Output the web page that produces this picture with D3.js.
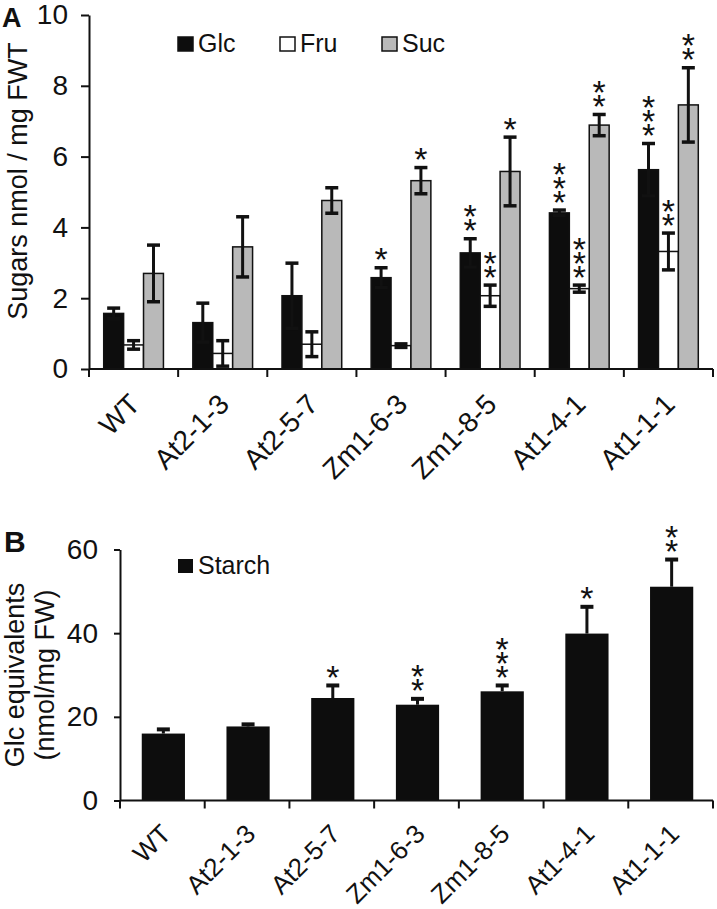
<!DOCTYPE html>
<html>
<head>
<meta charset="utf-8">
<script src="https://cdn.jsdelivr.net/npm/d3@7"></script>
<style>
  body { margin: 0; background: #fff; }
  svg text { font-family: "Liberation Sans", Arial, sans-serif; fill: #111; }
</style>
</head>
<body>
<svg id="chart" width="717" height="909"></svg>
<script>
// x axis categories, same in both panels
const categories = ["WT", "At2-1-3", "At2-5-7", "Zm1-6-3", "Zm1-8-5", "At1-4-1", "At1-1-1"];

// panel A: sugars nmol / mg FWT
const glc = [1.57, 1.31, 2.07, 2.58, 3.28, 4.41, 5.63];
const glcErr = [0.15, 0.55, 0.92, 0.28, 0.40, 0.08, 0.74];
const fru = [0.68, 0.44, 0.70, 0.66, 2.07, 2.27, 3.32];
const fruErr = [0.12, 0.36, 0.35, 0.05, 0.30, 0.10, 0.52];
const suc = [2.70, 3.45, 4.76, 5.32, 5.58, 6.89, 7.46];
const sucErr = [0.80, 0.85, 0.36, 0.37, 0.97, 0.30, 1.05];
const glcSig = ["", "", "", "*", "**", "***", "***"];
const fruSig = ["", "", "", "", "**", "***", "**"];
const sucSig = ["", "", "", "*", "*", "**", "**"];
const sugarTicks = [0, 2, 4, 6, 8, 10];

// panel B: starch, Glc equivalents
const starch = [16.0, 17.7, 24.5, 22.9, 26.1, 39.9, 51.1];
const starchErr = [1.0, 0.5, 3.0, 1.4, 1.4, 6.4, 6.5];
const starchSig = ["", "", "*", "**", "***", "*", "**"];
const starchTicks = [0, 20, 40, 60];

const svg = d3.select("#chart");

const series = [
  { name: "Glc", values: glc, err: glcErr, sig: glcSig, fill: "#0d0d0d" },
  { name: "Fru", values: fru, err: fruErr, sig: fruSig, fill: "#ffffff" },
  { name: "Suc", values: suc, err: sucErr, sig: sucSig, fill: "#b9b9b9" }
];

const starSize = 34;

function styleAxis(g) {
  g.selectAll("path, line").attr("stroke", "#111").attr("stroke-width", 2);
  g.selectAll("text").attr("font-size", 28).attr("fill", "#111");
}

function catAxis(g, x, y0, dx, dy, fs) {
  // boundary ticks between categories
  const bounds = categories.map(c => x(c)).concat([x.range()[1]]);
  g.append("line")
    .attr("x1", x.range()[0]).attr("x2", x.range()[1])
    .attr("y1", y0).attr("y2", y0)
    .attr("stroke", "#111").attr("stroke-width", 2);
  g.selectAll(".bt").data(bounds).enter().append("line")
    .attr("x1", d => d).attr("x2", d => d)
    .attr("y1", y0).attr("y2", y0 + 8)
    .attr("stroke", "#111").attr("stroke-width", 2);
  g.selectAll(".cl").data(categories).enter().append("text")
    .attr("transform", d => `translate(${x(d) + x.bandwidth() / 2 + dx},${y0 + dy}) rotate(-45)`)
    .attr("text-anchor", "end")
    .attr("font-size", fs)
    .text(d => d);
}

// one entry per asterisk, k = position in the stack
function stars(sig) {
  const out = [];
  sig.forEach((str, i) => {
    for (let k = 0; k < str.length; k++) out.push({ i, k });
  });
  return out;
}

// ---------- panel A ----------
const yA = d3.scaleLinear().domain([0, 10]).range([369, 15]);
const xA = d3.scaleBand().domain(categories).range([89, 713]).padding(0);
const xIn = d3.scaleBand().domain(series.map(s => s.name))
  .range([xA.bandwidth() * 0.165, xA.bandwidth() * 0.835]).padding(0);

const gA = svg.append("g");

gA.append("g")
  .attr("transform", "translate(89,0)")
  .call(d3.axisLeft(yA).tickValues(sugarTicks).tickSize(8).tickSizeOuter(0).tickPadding(13))
  .call(styleAxis);

series.forEach(s => {
  const g = gA.append("g");
  g.selectAll("rect").data(categories).enter().append("rect")
    .attr("x", (c) => xA(c) + xIn(s.name))
    .attr("y", (c, i) => yA(s.values[i]))
    .attr("width", xIn.bandwidth())
    .attr("height", (c, i) => yA(0) - yA(s.values[i]))
    .attr("fill", s.fill)
    .attr("stroke", "#111")
    .attr("stroke-width", 1.5);

  const cx = c => xA(c) + xIn(s.name) + xIn.bandwidth() / 2;
  const eb = g.selectAll(".eb").data(categories).enter().append("g");
  eb.append("line")
    .attr("x1", cx).attr("x2", cx)
    .attr("y1", (c, i) => yA(s.values[i] + s.err[i]))
    .attr("y2", (c, i) => yA(Math.max(0, s.values[i] - s.err[i])))
    .attr("stroke", "#111").attr("stroke-width", 3);
  [1, -1].forEach(sign => {
    eb.append("line")
      .attr("x1", c => cx(c) - 6.5).attr("x2", c => cx(c) + 6.5)
      .attr("y1", (c, i) => yA(Math.max(0, s.values[i] + sign * s.err[i])))
      .attr("y2", (c, i) => yA(Math.max(0, s.values[i] + sign * s.err[i])))
      .attr("stroke", "#111").attr("stroke-width", 3.5);
  });

  g.selectAll(".st").data(stars(s.sig)).enter().append("text")
    .attr("x", d => cx(categories[d.i]))
    .attr("y", d => yA(s.values[d.i] + s.err[d.i]) - 16 - d.k * 14 + starSize * 0.575)
    .attr("text-anchor", "middle")
    .attr("font-size", starSize)
    .text("*");
});

catAxis(gA, xA, 369, 8, 37, 28);

// legend A
const legA = gA.append("g");
const legX = [178, 280, 382];
series.forEach((s, i) => {
  legA.append("rect")
    .attr("x", legX[i]).attr("y", 37).attr("width", 15).attr("height", 14)
    .attr("fill", s.fill).attr("stroke", "#111").attr("stroke-width", 1.5);
  legA.append("text")
    .attr("x", legX[i] + 20).attr("y", 52)
    .attr("font-size", 25)
    .text(s.name);
});

gA.append("text")
  .attr("transform", "translate(27,181) rotate(-90)")
  .attr("text-anchor", "middle")
  .attr("font-size", 27)
  .text("Sugars nmol / mg FWT");

gA.append("text")
  .attr("x", 2).attr("y", 27)
  .attr("font-size", 27).attr("font-weight", "bold")
  .text("A");

// ---------- panel B ----------
const yB = d3.scaleLinear().domain([0, 60]).range([800.5, 549.5]);
const xB = d3.scaleBand().domain(categories).range([120, 713]).padding(0);
const gB = svg.append("g");

gB.append("g")
  .attr("transform", "translate(120,0)")
  .call(d3.axisLeft(yB).tickValues(starchTicks).tickSize(6).tickSizeOuter(0).tickPadding(16))
  .call(styleAxis);

const bw = xB.bandwidth() * 0.51;
const bcx = c => xB(c) + xB.bandwidth() / 2 + 1;

gB.selectAll(".bar").data(categories).enter().append("rect")
  .attr("x", c => bcx(c) - bw / 2)
  .attr("y", (c, i) => yB(starch[i]))
  .attr("width", bw)
  .attr("height", (c, i) => yB(0) - yB(starch[i]))
  .attr("fill", "#0d0d0d");

gB.selectAll(".stem").data(categories).enter().append("line")
  .attr("x1", bcx).attr("x2", bcx)
  .attr("y1", (c, i) => yB(starch[i] + starchErr[i]))
  .attr("y2", (c, i) => yB(starch[i]))
  .attr("stroke", "#111").attr("stroke-width", 3);
gB.selectAll(".cap").data(categories).enter().append("line")
  .attr("x1", c => bcx(c) - 6.5).attr("x2", c => bcx(c) + 6.5)
  .attr("y1", (c, i) => yB(starch[i] + starchErr[i]))
  .attr("y2", (c, i) => yB(starch[i] + starchErr[i]))
  .attr("stroke", "#111").attr("stroke-width", 4);

gB.selectAll(".st").data(stars(starchSig)).enter().append("text")
  .attr("x", d => bcx(categories[d.i]))
  .attr("y", d => yB(starch[d.i] + starchErr[d.i]) - 16 - d.k * 14 + starSize * 0.575)
  .attr("text-anchor", "middle")
  .attr("font-size", starSize)
  .text("*");

catAxis(gB, xB, 800.5, 10, 35, 26);

gB.append("rect")
  .attr("x", 178).attr("y", 559).attr("width", 15).attr("height", 14)
  .attr("fill", "#0d0d0d");
gB.append("text")
  .attr("x", 198).attr("y", 574)
  .attr("font-size", 25)
  .text("Starch");

const titleB = gB.append("text")
  .attr("transform", "translate(0,675) rotate(-90)")
  .attr("text-anchor", "middle")
  .attr("font-size", 27);
titleB.append("tspan").attr("x", 0).attr("y", 24).text("Glc equivalents");
titleB.append("tspan").attr("x", 0).attr("y", 54).text("(nmol/mg FW)");

gB.append("text")
  .attr("x", 4).attr("y", 552)
  .attr("font-size", 30).attr("font-weight", "bold")
  .text("B");
</script>
</body>
</html>
